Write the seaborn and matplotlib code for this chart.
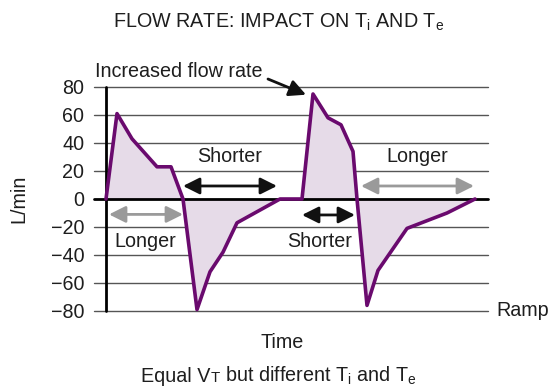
import matplotlib
matplotlib.use("Agg")
import matplotlib.pyplot as plt
from matplotlib.offsetbox import TextArea, HPacker, AnchoredOffsetbox
import numpy as np
import pandas as pd
import seaborn as sns

# Two breaths: normal flow, then an increased inspiratory flow rate
time_s = [0.00, 0.11, 0.26, 0.51, 0.65, 0.77, 0.91, 1.04, 1.17, 1.31, 1.74,
          1.96, 2.07, 2.22, 2.35, 2.47, 2.51, 2.61, 2.72, 3.01, 3.41, 3.69]
flow_lpm = [0, 61, 43, 23, 23, 0, -79, -52, -38, -17, 0,
            0, 75, 58, 53, 34, 0, -76, -51, -21, -10, 0]
y_ticks = [-80, -60, -40, -20, 0, 20, 40, 60, 80]

df = pd.DataFrame({"Time": time_s, "Flow": flow_lpm})

sns.set_theme(style="white")
plt.rcParams["font.family"] = ["Liberation Sans", "DejaVu Sans"]
plt.rcParams["mathtext.default"] = "regular"

W, H = 553, 387
FS = 14.2
TXT = "#1e1e1e"
fig = plt.figure(figsize=(W / 100, H / 100), dpi=100)
ax = fig.add_axes([94 / W, 1 - 311 / H, (488 - 94) / W, (311 - 87) / H])

LINE = "#6a0a6e"
FILL = "#e6dbe8"
GREY = "#9a9a9a"

# horizontal reference lines
for v in y_ticks:
    if v == 0:
        continue
    ax.axhline(v, color="#555555", lw=1.0, zorder=1, clip_on=False)
ax.axhline(0, color="black", lw=2.0, zorder=2, clip_on=False)
ax.plot([0, 0], [-80, 80], color="black", lw=2.0, zorder=2, clip_on=False)

ax.fill_between(df["Time"], df["Flow"], 0, color=FILL, zorder=1.5, lw=0)
sns.lineplot(data=df, x="Time", y="Flow", sort=False, color=LINE, lw=2.6,
             ax=ax, zorder=3, clip_on=False)

ax.set_xlim(-0.12, 3.82)
ax.set_ylim(-80, 80)
ax.set_yticks(y_ticks)
ax.set_xticks([])
ax.tick_params(axis="y", length=0, pad=7, labelsize=FS, colors=TXT)
for s in ax.spines.values():
    s.set_visible(False)
ax.set_xlabel("")
ax.set_ylabel("")

HEAD = "head_length=1.0,head_width=0.5"


def double_arrow(x0, x1, y, color):
    ax.annotate("", xy=(x1, y), xytext=(x0, y),
                arrowprops=dict(arrowstyle="<|-|>," + HEAD, mutation_scale=10,
                                color=color, lw=2.0, shrinkA=0, shrinkB=0),
                zorder=4, annotation_clip=False)


tk = dict(fontsize=FS, color=TXT, ha="center", va="center", zorder=5)

double_arrow(0.03, 0.77, -11, GREY)
ax.text(0.39, -30.5, "Longer", **tk)
double_arrow(0.77, 1.71, 9.3, "#111111")
ax.text(1.24, 30, "Shorter", **tk)
double_arrow(1.96, 2.49, -11.4, "#111111")
ax.text(2.14, -30.5, "Shorter", **tk)
double_arrow(2.55, 3.68, 9.3, GREY)
ax.text(3.11, 30, "Longer", **tk)

ax.text(-0.11, 91, "Increased flow rate", fontsize=FS, color=TXT,
        ha="left", va="center", zorder=5, clip_on=False)
ax.annotate("", xy=(2.00, 74.5), xytext=(1.62, 85.7),
            arrowprops=dict(arrowstyle="-|>," + HEAD, mutation_scale=10,
                            color="#111111", lw=2.0, shrinkA=0, shrinkB=0),
            annotation_clip=False, zorder=5)

ax.text(1.02, -80, "Ramp", transform=ax.get_yaxis_transform(), fontsize=FS,
        color=TXT, ha="left", va="center", clip_on=False)

fig.text(279 / W, 1 - 22 / H, "FLOW RATE: IMPACT ON T$_i$ AND T$_e$",
         fontsize=FS, color=TXT, ha="center", va="center")
fig.text(19 / W, 1 - 199 / H, "L/min", rotation=90, fontsize=FS,
         color=TXT, ha="center", va="center")
fig.text(282 / W, 1 - 342 / H, "Time", fontsize=FS, color=TXT,
         ha="center", va="center")

# caption with small-capital T in "VT"
parts = [
    TextArea("Equal V", textprops=dict(fontsize=FS, color=TXT)),
    TextArea("T", textprops=dict(fontsize=FS * 0.76, color=TXT)),
    TextArea(" but different T$_i$ and T$_e$",
             textprops=dict(fontsize=FS, color=TXT)),
]
caption = HPacker(children=parts, align="baseline", pad=0, sep=0)
box = AnchoredOffsetbox(loc="center", child=caption, frameon=False,
                        bbox_to_anchor=(279 / W, 1 - 376 / H),
                        bbox_transform=fig.transFigure, pad=0, borderpad=0)
fig.add_artist(box)

fig.savefig("out.png", dpi=100)
